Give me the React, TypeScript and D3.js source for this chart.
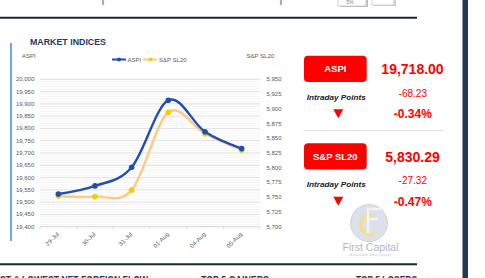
import React from 'react';
import * as d3 from 'd3';

const categories = ['29-Jul', '30-Jul', '31-Jul', '01-Aug', '04-Aug', '05-Aug'];
const aspiValues = [19533, 19566, 19642, 19915, 19786.23, 19718.0];
const snpValues = [5752, 5751, 5762, 5894, 5857.61, 5830.29];
const leftDomain = [19400, 20000];
const rightDomain = [5700, 5950];
const leftStep = 50;
const rightStep = 25;

const panels = [
  { name: 'ASPI', value: '19,718.00', points: '-68.23', pct: '-0.34%' },
  { name: 'S&P SL20', value: '5,830.29', points: '-27.32', pct: '-0.47%' },
];

const FONT = "'Liberation Sans', Arial, sans-serif";
const NAVY = '#1f3864';
const AXIS = '#595959';
const BLUE = '#1f4fb0';
const ORANGE = '#ffc97f';
const YELLOW = '#f0cf00';
const RED = '#ff0000';

export default function App() {
  const x = d3.scaleBand<string>().domain(categories).range([40, 260]);
  const cx = (c: string) => (x(c) as number) + x.bandwidth() / 2;
  const yL = d3.scaleLinear().domain(leftDomain).range([226.7, 79.3]);
  const yR = d3.scaleLinear().domain(rightDomain).range([226.7, 79.3]);

  const leftTicks = d3.range(leftDomain[0], leftDomain[1] + 1, leftStep);
  const rightTicks = d3.range(rightDomain[0], rightDomain[1] + 1, rightStep);
  const minorTicks = d3.range(leftDomain[0], leftDomain[1] + 1, 10);

  const aspiLine = d3
    .line<number>()
    .x((_, i) => cx(categories[i]))
    .y((d) => yL(d))
    .curve(d3.curveCatmullRom.alpha(0));
  const snpLine = d3
    .line<number>()
    .x((_, i) => cx(categories[i]))
    .y((d) => yR(d))
    .curve(d3.curveCatmullRom.alpha(0));

  const fmt = d3.format(',');

  const panelY = [0, 87.5];

  return (
    <svg
      width={485}
      height={278}
      style={{ position: 'absolute', left: 0, top: 0, background: '#fff' }}
      fontFamily={FONT}
    >
      {/* top decorations */}
      <line x1={103} x2={103} y1={0} y2={5} stroke="#5b9bd5" strokeWidth={1.5} />
      <line x1={281} x2={281} y1={0} y2={5} stroke="#5b9bd5" strokeWidth={1.5} />
      <rect x={340} y={-2} width={28} height={9} fill="#bfbfbf" />
      <rect x={338} y={-3} width={28} height={9} fill="#fff" stroke="#c8c8c8" strokeWidth={0.8} />
      <text x={350} y={3.5} fontSize={5} fill="#7f7f7f" textAnchor="middle">5%</text>
      <rect x={374} y={-2} width={22} height={8} fill="#d0d0d0" />
      <rect x={372} y={-3} width={22} height={8} fill="#fff" stroke="#c8c8c8" strokeWidth={0.8} />
      <line x1={0} x2={417} y1={17.8} y2={17.8} stroke="#1b2631" strokeWidth={2} />
      <line x1={0} x2={417} y1={264.2} y2={264.2} stroke="#1b2631" strokeWidth={2} />
      <rect x={462.5} y={0} width={5.5} height={278} fill="#243b55" />

      {/* bottom headings (cut by the frame, as in the source) */}
      <text x={0} y={283.5} fontSize={10} fontWeight="bold" fill={NAVY} textLength={148} lengthAdjust="spacingAndGlyphs">
        ST &amp; LOWEST NET FOREIGN FLOW
      </text>
      <text x={201} y={283.5} fontSize={10} fontWeight="bold" fill={NAVY} textLength={68} lengthAdjust="spacingAndGlyphs">
        TOP 5 GAINERS
      </text>
      <text x={356} y={283.5} fontSize={10} fontWeight="bold" fill={NAVY} textLength={61} lengthAdjust="spacingAndGlyphs">
        TOP 5 LOSERS
      </text>

      {/* left blue bar */}
      <rect x={10} y={43} width={2} height={198} fill="#6fa8dc" />

      {/* title */}
      <text x={30} y={45.3} fontSize={9.5} fontWeight="bold" fill={NAVY} textLength={76} lengthAdjust="spacingAndGlyphs">
        MARKET INDICES
      </text>

      {/* axis titles */}
      <text x={22} y={57.7} fontSize={6} fill={AXIS}>ASPI</text>
      <text x={246.5} y={57.7} fontSize={6} fill={AXIS}>S&amp;P SL20</text>

      {/* legend */}
      <g>
        <line x1={112} x2={126} y1={59.5} y2={59.5} stroke={BLUE} strokeWidth={2} />
        <circle cx={119} cy={59.5} r={2} fill={BLUE} />
        <text x={127.5} y={61.5} fontSize={6} fill={AXIS}>ASPI</text>
        <line x1={143} x2={157} y1={59.5} y2={59.5} stroke={ORANGE} strokeWidth={2} />
        <circle cx={150.5} cy={59.5} r={2} fill={YELLOW} />
        <text x={159} y={61.5} fontSize={6} fill={AXIS}>S&amp;P SL20</text>
      </g>

      {/* gridlines */}
      {minorTicks.map((t) => (
        <line key={'m' + t} x1={40} x2={260} y1={yL(t)} y2={yL(t)} stroke="#efefef" strokeWidth={0.6} />
      ))}
      {leftTicks.map((t) => (
        <line key={'g' + t} x1={40} x2={260} y1={yL(t)} y2={yL(t)} stroke="#d9d9d9" strokeWidth={0.7} />
      ))}
      {/* x axis */}
      <line x1={40} x2={260} y1={yL(leftDomain[0])} y2={yL(leftDomain[0])} stroke="#d9d9d9" strokeWidth={0.8} />
      {categories.concat(['end']).map((c, i) => {
        const xx = i < categories.length ? (x(c) as number) : 260;
        return <line key={'t' + i} x1={xx} x2={xx} y1={yL(leftDomain[0])} y2={yL(leftDomain[0]) + 3} stroke="#d9d9d9" strokeWidth={0.8} />;
      })}

      {/* tick labels */}
      {leftTicks.map((t) => (
        <text key={'l' + t} x={34.3} y={yL(t) + 2} fontSize={6} fill={AXIS} textAnchor="end">
          {fmt(t)}
        </text>
      ))}
      {rightTicks.map((t) => (
        <text key={'r' + t} x={266.5} y={yR(t) + 2} fontSize={6} fill={AXIS}>
          {fmt(t)}
        </text>
      ))}
      {categories.map((c) => (
        <text
          key={'x' + c}
          transform={`translate(${cx(c) + 1},${yL(leftDomain[0]) + 8}) rotate(-45)`}
          fontSize={6}
          fill={AXIS}
          textAnchor="end"
        >
          {c}
        </text>
      ))}

      {/* series */}
      <path d={snpLine(snpValues) || ''} fill="none" stroke={ORANGE} strokeWidth={2.4} />
      {snpValues.map((v, i) => (
        <circle key={'s' + i} cx={cx(categories[i])} cy={yR(v)} r={2.8} fill={YELLOW} />
      ))}
      <path d={aspiLine(aspiValues) || ''} fill="none" stroke={BLUE} strokeWidth={2.4} />
      {aspiValues.map((v, i) => (
        <circle key={'a' + i} cx={cx(categories[i])} cy={yL(v)} r={2.8} fill={BLUE} />
      ))}

      {/* right panels */}
      {panels.map((p, k) => {
        const oy = panelY[k];
        return (
          <g key={p.name} transform={`translate(0,${oy})`}>
            <rect x={304} y={55.7} width={62.7} height={26.3} rx={4} fill={RED} />
            <text x={335.3} y={72.2} fontSize={9.5} fontWeight="bold" fill="#fff" textAnchor="middle">
              {p.name}
            </text>
            <text x={412.5} y={74.3} fontSize={14} fontWeight="bold" fill={RED} textAnchor="middle">
              {p.value}
            </text>
            <text x={336.3} y={99.5} fontSize={8} fontWeight="bold" fontStyle="italic" fill="#1a1a1a" textAnchor="middle" textLength={59} lengthAdjust="spacingAndGlyphs">
              Intraday Points
            </text>
            <text x={412.8} y={96.8} fontSize={10} fill={RED} textAnchor="middle">
              {p.points}
            </text>
            <path d="M333.3,109.3 L343.3,109.3 L338.3,118.3 Z" fill={RED} />
            <text x={412.8} y={118.3} fontSize={12} fontWeight="bold" fill={RED} textAnchor="middle">
              {p.pct}
            </text>
          </g>
        );
      })}
      <line x1={303.3} x2={443.3} y1={130.7} y2={130.7} stroke="#d9d9d9" strokeWidth={1} />

      {/* logo */}
      <g opacity={0.8}>
        <circle cx={369} cy={223} r={18.5} fill="#d3d9e4" stroke="#c3cad8" strokeWidth={1} />
        <path d="M374,216 A9.5,9.5 0 1,0 375,233" fill="none" stroke="#f1d77a" strokeWidth={4} />
        <path d="M368,233 L368,209 L381,209 M368,219 L378,219" fill="none" stroke="#eef1f6" strokeWidth={2.4} />
      </g>
      <text x={370.5} y={250.5} fontSize={10.5} fill="#afb8c9" textAnchor="middle">First Capital</text>
      <text x={370.5} y={256} fontSize={3} fill="#c4cad6" textAnchor="middle">A Janashakthi Group Company</text>
    </svg>
  );
}
